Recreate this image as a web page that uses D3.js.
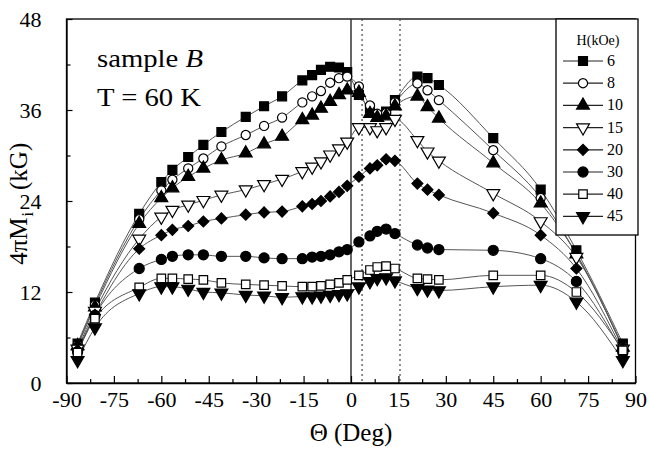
<!DOCTYPE html>
<html>
<head>
<meta charset="utf-8">
<script src="https://cdn.jsdelivr.net/npm/d3@7"></script>
<style>
  body { margin: 0; background: #fff; }
  svg text { font-family: "Liberation Serif", "DejaVu Serif", "Noto Serif", "FreeSerif", "Nimbus Roman", Times, serif; }
</style>
</head>
<body>
<svg id="chart" width="649" height="449"></svg>
<script>
// angles (deg) and 4piMi (kG)
const angles = [-86.5, -81, -67, -60, -56.5, -51.5, -46.7, -41, -33.3, -27.5, -21.8, -15.4, -12.3, -9.5, -6.6, -3.8, -1.2, 2.5, 6, 8.3, 11.1, 13.9, 21, 24.2, 27.8, 45, 60, 71.3, 86];

const h6  = [5.2, 10.6, 22.3, 26.5, 28.1, 29.8, 31.4, 33.1, 35.1, 36.5, 37.8, 39.9, 40.6, 41.3, 41.7, 41.6, 41.0, 38.0, 36.2, 35.3, 35.8, 37.3, 40.4, 40.2, 39.3, 32.3, 25.5, 17.5, 5.2];
const h8  = [5.0, 10.3, 21.6, 25.4, 26.8, 28.3, 29.6, 31.2, 32.7, 33.9, 35.0, 37.0, 37.8, 38.5, 39.6, 40.2, 40.4, 39.1, 36.6, 35.5, 35.6, 37.0, 39.5, 38.6, 37.3, 30.7, 24.4, 17.0, 4.8];
const h10 = [4.9, 10.0, 21.0, 24.4, 25.7, 27.2, 28.3, 29.4, 30.3, 31.5, 32.5, 34.7, 35.3, 36.2, 37.1, 38.0, 38.6, 38.3, 35.5, 35.0, 35.2, 36.5, 37.8, 36.4, 34.9, 29.0, 23.7, 17.0, 4.7];
const h15 = [4.5, 9.5, 19.0, 21.9, 22.8, 23.5, 24.1, 24.8, 25.5, 26.2, 26.9, 27.9, 28.5, 29.2, 30.1, 30.9, 31.8, 33.7, 33.7, 33.3, 33.7, 34.8, 32.0, 30.5, 29.3, 25.0, 21.3, 16.6, 4.5];
const h20 = [4.3, 9.0, 17.7, 19.5, 20.2, 20.7, 21.3, 21.7, 22.2, 22.5, 22.6, 23.3, 23.6, 24.0, 24.6, 25.2, 26.0, 27.2, 28.3, 28.7, 29.5, 29.3, 26.3, 25.5, 24.8, 22.4, 19.5, 15.1, 4.2];
const h30 = [4.1, 8.9, 15.1, 16.3, 16.7, 16.9, 16.9, 16.7, 16.7, 16.5, 16.4, 16.4, 16.6, 16.7, 16.9, 17.3, 17.6, 18.6, 19.4, 20.0, 20.3, 19.7, 18.2, 17.8, 17.6, 17.5, 16.4, 13.4, 4.0];
const h40 = [4.0, 8.5, 12.6, 13.8, 13.8, 13.7, 13.6, 13.2, 13.0, 12.9, 12.8, 12.7, 12.7, 12.8, 13.0, 13.2, 13.6, 14.2, 14.9, 15.3, 15.4, 15.1, 13.8, 13.7, 13.6, 14.2, 14.2, 12.0, 4.3];
const h45 = [3.0, 7.3, 11.8, 12.7, 12.7, 12.4, 12.0, 11.9, 11.6, 11.5, 11.3, 11.4, 11.4, 11.5, 11.6, 11.7, 11.8, 12.7, 13.4, 13.8, 13.9, 13.5, 12.5, 12.3, 12.2, 12.7, 12.9, 10.7, 3.0];

const fields = ["6", "8", "10", "15", "20", "30", "40", "45"];
const values = [h6, h8, h10, h15, h20, h30, h40, h45];

const xTicks = [-90, -75, -60, -45, -30, -15, 0, 15, 30, 45, 60, 75, 90];
const yTicks = [0, 12, 24, 36, 48];
const markerLines = [0, 3.5, 15.5];

const svg = d3.select("#chart");

const x = d3.scaleLinear().domain([-90, 90]).range([66.5, 635.5]);
const y = d3.scaleLinear().domain([0, 48]).range([383, 19]);

// marker shapes: [symbol, filled, rotation, size]
const shapes = [
    [d3.symbolSquare, true, 0, 80],
    [d3.symbolCircle, false, 0, 66],
    [d3.symbolTriangle, true, 0, 72],
    [d3.symbolTriangle, false, 180, 72],
    [d3.symbolSquare, true, 45, 60],
    [d3.symbolCircle, true, 0, 80],
    [d3.symbolSquare, false, 0, 72],
    [d3.symbolTriangle, true, 180, 72]
];

function drawMarker(g, i, cx, cy) {
    const s = shapes[i];
    g.append("path")
        .attr("d", d3.symbol().type(s[0]).size(s[3])())
        .attr("transform", `translate(${cx},${cy}) rotate(${s[2]})`)
        .attr("fill", s[1] ? "#000" : "#fff")
        .attr("stroke", "#000")
        .attr("stroke-width", 1.2);
}

// frame
svg.append("rect")
    .attr("x", x(-90)).attr("y", y(48))
    .attr("width", x(90) - x(-90)).attr("height", y(0) - y(48))
    .attr("fill", "none").attr("stroke", "#000").attr("stroke-width", 1.3);

// vertical line at 0 and the dotted pair
svg.selectAll(".vline")
    .data(markerLines)
    .enter()
    .append("line")
    .attr("x1", d => x(d)).attr("x2", d => x(d))
    .attr("y1", y(48)).attr("y2", y(0))
    .attr("stroke", d => d === 0 ? "#333" : "#444")
    .attr("stroke-width", d => d === 0 ? 1.5 : 1.2)
    .attr("stroke-dasharray", d => d === 0 ? null : "2,3");

// axes
const fmt = d => String(d);
const xAxis = svg.append("g")
    .attr("transform", `translate(0,${y(0)})`)
    .call(d3.axisBottom(x).tickValues(xTicks).tickFormat(fmt).tickSizeInner(-7).tickSizeOuter(0).tickPadding(8));
svg.append("g")
    .attr("transform", `translate(0,${y(0)})`)
    .call(d3.axisBottom(x).tickValues(d3.range(-82.5, 90, 15)).tickSize(-4).tickFormat(""))
    .call(g => g.select(".domain").remove());

const yAxis = svg.append("g")
    .attr("transform", `translate(${x(-90)},0)`)
    .call(d3.axisLeft(y).tickValues(yTicks).tickFormat(fmt).tickSizeInner(-6).tickSizeOuter(0).tickPadding(25));
svg.append("g")
    .attr("transform", `translate(${x(-90)},0)`)
    .call(d3.axisLeft(y).tickValues([6, 18, 30, 42]).tickSize(-4).tickFormat(""))
    .call(g => g.select(".domain").remove());

svg.selectAll(".tick line").attr("stroke", "#000").attr("stroke-width", 1.2);
svg.selectAll(".domain").attr("stroke", "#000").attr("stroke-width", 1.3);
[xAxis, yAxis].forEach(a => a.attr("font-size", 22).selectAll("text").attr("fill", "#000"));

// series
const line = d3.line()
    .x(d => x(d[0]))
    .y(d => y(d[1]))
    .curve(d3.curveMonotoneX);

values.forEach((vals, i) => {
    const pts = angles.map((a, j) => [a, vals[j]]);
    svg.append("path")
        .datum(pts)
        .attr("d", line)
        .attr("fill", "none")
        .attr("stroke", "#555")
        .attr("stroke-width", 1);
});
values.forEach((vals, i) => {
    const g = svg.append("g");
    angles.forEach((a, j) => drawMarker(g, i, x(a), y(vals[j])));
});

// annotation
svg.append("text")
    .attr("x", 97).attr("y", 67)
    .attr("font-size", 26)
    .attr("textLength", 106).attr("lengthAdjust", "spacingAndGlyphs")
    .html('sample <tspan font-style="italic">B</tspan>');
svg.append("text")
    .attr("x", 97).attr("y", 106)
    .attr("font-size", 26)
    .attr("textLength", 104).attr("lengthAdjust", "spacingAndGlyphs")
    .text("T = 60 K");

// legend
const lg = svg.append("g");
lg.append("rect")
    .attr("x", 556).attr("y", 19)
    .attr("width", 82).attr("height", 216)
    .attr("fill", "#fff").attr("stroke", "#000").attr("stroke-width", 1.3);
lg.append("text")
    .attr("x", 598).attr("y", 45)
    .attr("text-anchor", "middle")
    .attr("font-size", 14)
    .text("H(kOe)");
fields.forEach((f, i) => {
    const cy = 61 + i * 22.2;
    lg.append("line")
        .attr("x1", 563).attr("x2", 603)
        .attr("y1", cy).attr("y2", cy)
        .attr("stroke", "#222").attr("stroke-width", 1.2);
    drawMarker(lg, i, 583, cy);
    lg.append("text")
        .attr("x", 607).attr("y", cy + 5)
        .attr("font-size", 16)
        .text(f);
});

// axis titles
svg.append("text")
    .attr("x", x(0)).attr("y", 441)
    .attr("text-anchor", "middle")
    .attr("font-size", 25)
    .text("\u0398 (Deg)");

// y title in pieces; the "24" tick label sits in the gap between M_i and (kG), as in the original
const yt = svg.append("g")
    .attr("transform", `translate(27,${y(24)}) rotate(-90)`);
const p1 = yt.append("text").attr("font-size", 25).text("4\u03c0M");
const w1 = p1.node().getComputedTextLength();
const p2 = yt.append("text").attr("font-size", 16).attr("x", w1 + 1).attr("y", 6).text("i");
const w2 = p2.node().getComputedTextLength();
const gap = 22;
const gapStart = w1 + 1 + w2;
yt.append("text").attr("font-size", 25).attr("x", gapStart + gap).text("(kG)");
yt.selectAll("text").attr("transform", `translate(${-(gapStart + gap / 2)},0)`);
</script>
</body>
</html>
